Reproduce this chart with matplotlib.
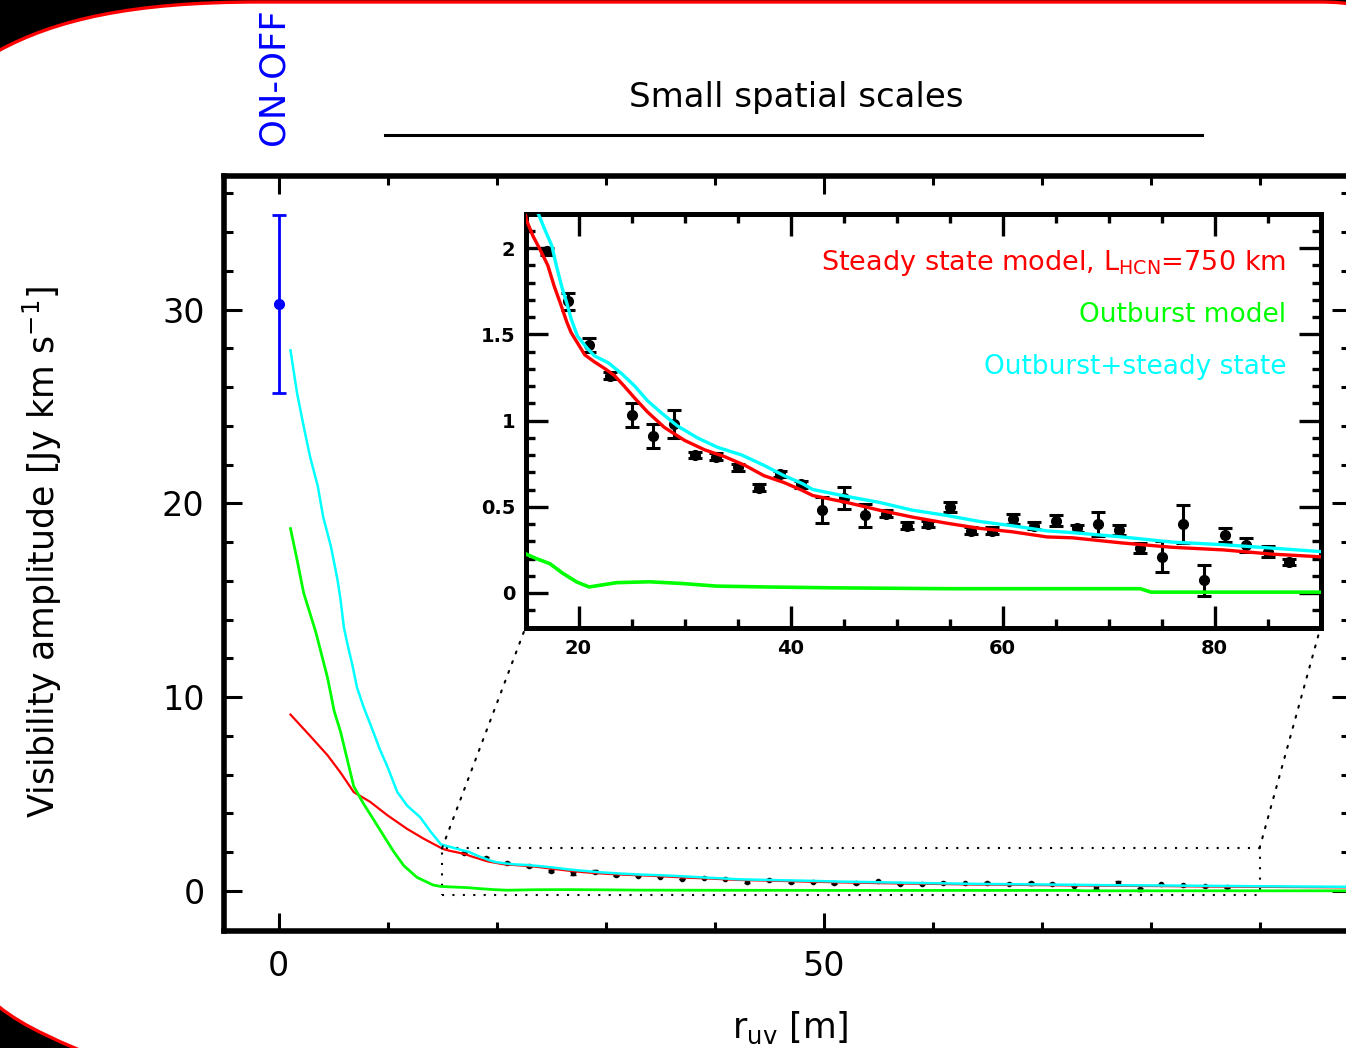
#!/usr/bin/env python3
"""Visibility amplitude vs uv radius, with zoomed inset of small spatial scales"""
import numpy as np
import matplotlib
matplotlib.use('Agg')
import matplotlib.pyplot as plt
import matplotlib.ticker as mticker
from matplotlib.patches import PathPatch, ConnectionPatch
from matplotlib.path import Path
from matplotlib.lines import Line2D

plt.rcParams['font.family'] = ['DejaVu Sans']
plt.rcParams['mathtext.default'] = 'regular'

# === DATA ===
# ON-OFF single-dish point
onoff_x = [0.0]
onoff_y = [30.3]
onoff_err = [4.6]

# interferometer visibilities
pts_x = [17, 19, 21, 23, 25, 27, 29, 31, 33, 35, 37, 39, 41, 43, 45, 47, 49, 51,
         53, 55, 57, 59, 61, 63, 65, 67, 69, 71, 73, 75, 77, 79, 81, 83, 85, 87]
pts_y = [1.98, 1.69, 1.44, 1.26, 1.03, 0.91, 0.98, 0.80, 0.79, 0.73, 0.61, 0.69,
         0.63, 0.48, 0.55, 0.45, 0.46, 0.39, 0.40, 0.50, 0.36, 0.36, 0.43, 0.39,
         0.42, 0.375, 0.40, 0.365, 0.26, 0.21, 0.40, 0.075, 0.335, 0.28, 0.24, 0.18]
pts_err = [0.02, 0.05, 0.04, 0.02, 0.07, 0.07, 0.08, 0.02, 0.02, 0.02, 0.02, 0.02,
           0.02, 0.075, 0.065, 0.065, 0.02, 0.02, 0.02, 0.03, 0.02, 0.02, 0.03, 0.02,
           0.03, 0.02, 0.07, 0.03, 0.03, 0.09, 0.11, 0.09, 0.04, 0.04, 0.03, 0.02]

# steady state model (red)
red_x = [1.1, 2.9, 4.5, 5.7, 6.9, 8.4, 10.0, 11.8, 13.3, 15.1, 15.7, 16.3, 17.1,
         17.7, 18.4, 18.9, 19.3, 19.9, 20.6, 21.5, 22.5, 23.4, 24.3, 25.3, 26.5,
         28.1, 30.0, 31.9, 33.8, 35.7, 37.5, 39.4, 41.1, 42.1, 45.3, 48.4, 51.5,
         54.7, 57.8, 60.9, 64.2, 66.6, 71.3, 76.0, 80.8, 85.5, 90.0, 98.5]
red_y = [9.1, 8.0, 7.0, 6.1, 5.1, 4.6, 3.9, 3.2, 2.7, 2.16, 2.07, 2.00, 1.90,
         1.78, 1.66, 1.57, 1.51, 1.45, 1.38, 1.34, 1.30, 1.26, 1.20, 1.13, 1.05,
         0.96, 0.885, 0.83, 0.79, 0.74, 0.68, 0.64, 0.595, 0.565, 0.525, 0.48, 0.44,
         0.405, 0.375, 0.355, 0.325, 0.32, 0.29, 0.265, 0.25, 0.225, 0.21, 0.18]

# outburst model (green)
green_x = [1.1, 1.7, 2.3, 3.4, 4.5, 5.1, 5.7, 6.3, 6.9, 7.8, 8.7, 9.7, 10.6,
           11.5, 12.7, 14.2, 14.9, 16.0, 17.3, 18.5, 19.8, 21.0, 23.6, 26.7,
           29.8, 33.0, 37.7, 44.0, 54.7, 73.0, 74.0, 90.0, 98.5]
green_y = [18.7, 17.1, 15.4, 13.4, 11.0, 9.3, 8.2, 6.8, 5.4, 4.5, 3.7, 2.8, 2.0,
           1.3, 0.7, 0.3, 0.23, 0.20, 0.17, 0.115, 0.065, 0.035, 0.06, 0.065,
           0.055, 0.04, 0.035, 0.03, 0.025, 0.025, 0.005, 0.005, 0.005]

# outburst + steady state (cyan)
cyan_x = [1.1, 1.7, 2.3, 2.9, 3.6, 4.1, 4.8, 5.4, 5.7, 6.0, 6.3, 6.8, 7.2, 7.8,
          8.7, 9.3, 10.0, 10.9, 11.8, 13.0, 13.9, 14.9, 16.3, 16.8, 17.5, 17.9,
          18.4, 18.9, 19.3, 19.9, 20.8, 21.5, 22.8, 24.1, 25.3, 26.5, 27.8, 29.3,
          31.2, 33.1, 35.4, 37.5, 39.4, 41.1, 42.1, 45.3, 48.4, 51.5, 54.7, 57.8,
          60.9, 64.2, 66.6, 71.3, 76.0, 80.8, 85.5, 90.0, 98.5]
cyan_y = [27.9, 25.7, 24.0, 22.4, 20.9, 19.3, 17.8, 16.1, 15.0, 13.6, 12.8, 11.6,
          10.5, 9.5, 8.2, 7.3, 6.4, 5.1, 4.4, 3.8, 3.1, 2.4, 2.185, 2.11, 2.01, 1.90,
          1.78, 1.68, 1.59, 1.49, 1.42, 1.375, 1.335, 1.27, 1.20, 1.115, 1.045, 0.97,
          0.90, 0.845, 0.80, 0.74, 0.68, 0.635, 0.60, 0.56, 0.525, 0.48, 0.45, 0.415,
          0.39, 0.36, 0.35, 0.325, 0.295, 0.28, 0.26, 0.24, 0.21]

zoom_x = (15, 90)
zoom_y = (-0.2, 2.2)

# === FIGURE ===
W, H = 1346, 1048
fx = lambda px: px / W
fy = lambda py: 1 - py / H

fig = plt.figure(figsize=(W / 100, H / 100), dpi=100, facecolor='black')

# white slide panel with red rounded border
pix = [(-2, 51), (55, 20), (130, 2), (260, 2), (1318, 2), (1336, 2), (1350, 3),
       (1366, 7), (1366, 1065), (115, 1065), (60, 1042), (25, 1028), (-2, 1006),
       (-2, 51)]
codes = [Path.MOVETO, Path.CURVE4, Path.CURVE4, Path.CURVE4, Path.LINETO,
         Path.CURVE4, Path.CURVE4, Path.CURVE4, Path.LINETO, Path.LINETO,
         Path.CURVE4, Path.CURVE4, Path.CURVE4, Path.CLOSEPOLY]
panel = PathPatch(Path([(fx(x), fy(y)) for x, y in pix], codes),
                  transform=fig.transFigure, facecolor='white',
                  edgecolor='#ff0000', lw=2.4, zorder=-5)
fig.add_artist(panel)

# === MAIN AXES ===
ax = fig.add_axes([fx(224), fy(931), (1350 - 224) / W, (931 - 176) / H])
ax.set_xlim(-5, 98.3)
ax.set_ylim(-2.07, 36.9)

ax.errorbar(pts_x, pts_y, yerr=pts_err, fmt='o', color='k', ms=3, capsize=2,
            elinewidth=1, zorder=2)
ax.plot(red_x, red_y, color='#ff0000', lw=1.6, zorder=3)
ax.plot(green_x, green_y, color='#00ff00', lw=2.0, zorder=3)
ax.plot(cyan_x, cyan_y, color='#00ffff', lw=1.8, zorder=3)
ax.errorbar(onoff_x, onoff_y, yerr=onoff_err, fmt='o', color='#0000ff', ms=7,
            capsize=5, elinewidth=2, capthick=2, zorder=4)

# zoom rectangle
ax.plot([zoom_x[0], zoom_x[1], zoom_x[1], zoom_x[0], zoom_x[0]],
        [zoom_y[0], zoom_y[0], zoom_y[1], zoom_y[1], zoom_y[0]],
        color='k', lw=1.5, linestyle=(0, (1, 4)), zorder=1)

ax.xaxis.set_major_locator(mticker.MultipleLocator(50))
ax.xaxis.set_minor_locator(mticker.MultipleLocator(10))
ax.yaxis.set_major_locator(mticker.MultipleLocator(10))
ax.yaxis.set_minor_locator(mticker.MultipleLocator(2))
ax.tick_params(which='both', direction='in', top=True, right=True, labelsize=24)
ax.tick_params(which='major', length=13, width=2.2)
ax.tick_params(which='minor', length=6.5, width=2.2)
ax.tick_params(axis='x', pad=14)
ax.tick_params(axis='y', pad=14)
for sp in ax.spines.values():
    sp.set_linewidth(4)

ax.set_xlabel(r'r$_{\rm uv}$ [m]', fontsize=25)
ax.xaxis.set_label_coords(0.503, -0.1285)
ax.xaxis.label.set_va('center')
ax.set_ylabel(r'Visibility amplitude [Jy km s$^{-1}$]', fontsize=25)
ax.yaxis.set_label_coords(-0.1616, 0.502)
ax.yaxis.label.set_va('center')

# === INSET ===
axins = fig.add_axes([fx(525.5), fy(627.5), 795 / W, 414 / H])
axins.set_xlim(*zoom_x)
axins.set_ylim(*zoom_y)
axins.errorbar(pts_x, pts_y, yerr=pts_err, fmt='o', color='k', ms=7, capsize=5,
               elinewidth=2.2, capthick=2.2, zorder=2)
axins.plot(red_x, red_y, color='#ff0000', lw=2.4, zorder=3)
axins.plot(green_x, green_y, color='#00ff00', lw=2.6, zorder=3)
axins.plot(cyan_x, cyan_y, color='#00ffff', lw=2.4, zorder=3)

axins.xaxis.set_major_locator(mticker.MultipleLocator(20))
axins.xaxis.set_minor_locator(mticker.MultipleLocator(5))
axins.yaxis.set_major_locator(mticker.MultipleLocator(0.5))
axins.yaxis.set_minor_locator(mticker.MultipleLocator(0.1))
axins.yaxis.set_major_formatter(mticker.FuncFormatter(lambda v, _: f'{v:g}'))
axins.tick_params(which='both', direction='in', top=True, right=True, labelsize=14)
axins.tick_params(which='major', length=16, width=2.4)
axins.tick_params(which='minor', length=6.5, width=2.4)
axins.tick_params(axis='x', pad=8)
axins.tick_params(axis='y', pad=7.5)
plt.setp(axins.get_xticklabels() + axins.get_yticklabels(), fontweight='bold')
for sp in axins.spines.values():
    sp.set_linewidth(3.6)

axins.text(0.957, 0.88, r'Steady state model, L$_{\rm HCN}$=750 km', color='#ff0000',
           fontsize=19.5, ha='right', va='center', transform=axins.transAxes)
axins.text(0.957, 0.754, 'Outburst model', color='#00ff00',
           fontsize=19, ha='right', va='center', transform=axins.transAxes)
axins.text(0.957, 0.629, 'Outburst+steady state', color='#00ffff',
           fontsize=19, ha='right', va='center', transform=axins.transAxes)

# dotted connectors from zoom box to inset
for xa, xb in [(zoom_x[0], 0), (zoom_x[1], 1)]:
    con = ConnectionPatch(xyA=(xa, zoom_y[1]), coordsA='data', axesA=ax,
                          xyB=(xb, 0), coordsB='axes fraction', axesB=axins,
                          color='k', lw=1.5, linestyle=(0, (1, 4)))
    fig.add_artist(con)

# === ANNOTATIONS ===
fig.text(fx(796), fy(97), 'Small spatial scales', fontsize=24.5, ha='center', va='center')
fig.add_artist(Line2D([fx(385), fx(1202)], [fy(135), fy(135)], color='k', lw=2.2,
                      transform=fig.transFigure))
fig.text(fx(273), fy(145), 'ON-OFF', color='#0000ff', fontsize=25.5, rotation=90,
         ha='center', va='bottom')

fig.savefig('out.png', dpi=100)
